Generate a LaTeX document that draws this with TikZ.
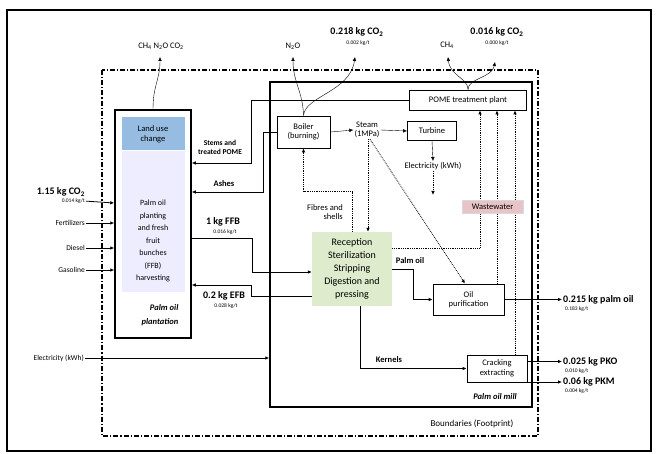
\documentclass[tikz,border=0pt]{standalone}
\usepackage{fontspec}
\setmainfont{Carlito}
\usetikzlibrary{positioning, arrows.meta}

\begin{document}
\begin{tikzpicture}[x=1pt, y=-1pt, >={Latex[length=4pt,width=3.6pt]},
    every node/.style={font=\fontsize{8.5}{9.5}\selectfont, inner sep=1pt},
    box/.style={draw, thick, fill=white, align=center},
    big/.style={font=\bfseries\fontsize{10}{11}\selectfont},
    tiny/.style={font=\fontsize{5.5}{6}\selectfont},
    lab/.style={font=\bfseries\fontsize{8.5}{9.5}\selectfont, align=center},
    inp/.style={anchor=east, font=\fontsize{7.5}{8.5}\selectfont},
    flow/.style={->, thick},
    aux/.style={->, densely dotted, thick}]
    \useasboundingbox (0,0) rectangle (658,454);
    \draw[line width=1.6pt] (7,10) rectangle (651,451);
    % system boundary
    \draw[line width=1.1pt, dash pattern=on 5pt off 2pt on 1.2pt off 2pt]
      (102,70) rectangle (538,436);
    \node[font=\fontsize{9}{10}\selectfont] at (472,424) {Boundaries (Footprint)};

    % plantation
    \fill[blue!7] (122,151) rectangle (185,292);
    \node[draw, line width=1.5pt, minimum width=76pt, minimum height=228pt] (plant) at (153,224) {};
    \node[fill={rgb,255:red,150;green,188;blue,225}, minimum width=63pt, minimum height=33pt,
      align=center, font=\fontsize{8.5}{10}\selectfont] (luc) at (153,134) {Land use\\change};
    \node[align=center, font=\fontsize{8}{12.5}\selectfont] (harv) at (153,241)
      {Palm oil\\planting\\and fresh\\fruit\\bunches\\(FFB)\\harvesting};
    \node[align=right, font=\bfseries\itshape\fontsize{8.5}{14}\selectfont] at (160,315) {Palm oil\\plantation};

    % mill
    \node[draw, line width=1.5pt, minimum width=262pt, minimum height=325pt] (mill) at (401,244.5) {};
    \node[font=\bfseries\itshape\fontsize{8.5}{9.5}\selectfont] at (495,397) {Palm oil mill};
    \node[box, minimum width=53pt, minimum height=32pt] (boiler) at (303.5,132) {Boiler\\(burning)};
    \node[align=center] (steam) at (367,130) {Steam\\(1MPa)};
    \node[box, minimum width=49pt, minimum height=19pt] (turb) at (432,131) {Turbine};
    \node[box, minimum width=117pt, minimum height=20pt] (pome) at (468,100) {POME treatment plant};
    \node (elec) at (433,166) {Electricity (kWh)};
    \coordinate (eout) at (433,195);
    \node[fill={rgb,255:red,222;green,236;blue,205}, minimum width=80pt, minimum height=74pt,
      align=center, font=\fontsize{10}{13}\selectfont] (recep) at (352,269)
      {Reception\\Sterilization\\Stripping\\Digestion and\\pressing};
    \node[box, minimum width=71pt, minimum height=31pt] (purif) at (468.5,299.5) {Oil\\purification};
    \node[box, minimum width=60pt, minimum height=27pt] (crack) at (497,368.5) {Cracking\\extracting};

    % steam and electricity
    \draw[->] (boiler.east) -- (steam.west);
    \draw[->] (steam.east) -- (turb.west);
    \draw[->] (turb.south) -- (elec.north);
    \draw[aux] (elec.south) -- (eout);
    \draw[aux] ([xshift=1pt]steam.south) -- ([xshift=16pt]recep.north);
    \draw[aux] ([xshift=3pt]steam.south) -- ([xshift=-3.5pt]purif.north);
    \draw[aux] (recep.north) -- ++(0,-40) -| (boiler.south);
    \node[align=right] at (325,212) {Fibres and\\shells};

    % wastewater to POME
    \draw[aux] ([yshift=21pt]recep.east) -| ([xshift=12pt]pome.south);
    \draw[aux] ([xshift=28.5pt]purif.north) -- ([xshift=28.5pt]purif.north |- pome.south);
    \draw[aux] ([xshift=18pt]crack.north) -- ([xshift=18pt]crack.north |- pome.south);
    \node[fill={rgb,255:red,232;green,196;blue,200}, draw=gray!30, minimum width=61pt,
      minimum height=13pt] (waste) at (492.5,206.5) {Wastewater};

    % emissions
    \coordinate (em1) at (160,57);
    \coordinate (n2o) at (293,57);
    \coordinate (co2b) at (355,57);
    \coordinate (ch4) at (448,57);
    \coordinate (co2c) at (495,62);
    \draw[->] (plant.north) .. controls (153,85) and (160,80) .. (em1);
    \draw[->] (boiler.north) .. controls (303,92) and (293,82) .. (n2o);
    \draw[->] (boiler.north) .. controls (305,96) and (350,92) .. (co2b);
    \draw[->] (pome.north) .. controls (468,78) and (450,76) .. (ch4);
    \draw[->] (pome.north) .. controls (468,78) and (492,78) .. (co2c);
    \node at (161,46) {CH\textsubscript{4} N\textsubscript{2}O CO\textsubscript{2}};
    \node at (293,46) {N\textsubscript{2}O};
    \node[big] at (357,32) {0.218 kg CO\textsubscript{2}};
    \node[tiny] at (358,43) {0.002 kg/t};
    \node at (447,45) {CH\textsubscript{4}};
    \node[big] at (497,32) {0.016 kg CO\textsubscript{2}};
    \node[tiny] at (497,43) {0.000 kg/t};

    % plantation <-> mill
    \draw[flow] (pome.west) -| ++(-158,63) -- ([yshift=61pt]plant.east);
    \node[lab, font=\bfseries\fontsize{7.5}{9}\selectfont] at (220,147) {Stems and\\treated POME};
    \draw[flow] (boiler.west) -| ++(-13,60) -- ([yshift=32pt]plant.east);
    \node[lab] at (224,184) {Ashes};
    \draw[flow] ([yshift=-14pt]plant.east) -- ++(61,0) |- ([yshift=-3pt]recep.west);
    \node[big] at (223,222) {1 kg FFB};
    \node[tiny] at (225,232) {0.016 kg/t};
    \draw[flow] ([yshift=-27pt]recep.west) -- ++(-60,0) |- ([yshift=-61pt]plant.east);
    \node[big] at (224,296) {0.2 kg EFB};
    \node[tiny] at (226,306) {0.028 kg/t};
    \draw[flow] (recep.east) -- ++(21,0) |- (purif.west);
    \node[lab] at (410,261) {Palm oil};
    \draw[flow] ([xshift=8pt]recep.south) |- (crack.west);
    \node[lab] at (389,360) {Kernels};

    % inputs
    \node[big, anchor=east] (in1) at (86,192) {1.15 kg CO\textsubscript{2}};
    \node[tiny, anchor=north east] (in1s) at (in1.south east) {0.014 kg/t};
    \node[inp] (in2) at (86,223) {Fertilizers};
    \node[inp] (in3) at (86,248) {Diesel};
    \node[inp] (in4) at (86,270) {Gasoline};
    \draw[flow] (in1s.east) -- ([yshift=21pt]plant.west);
    \draw[flow] (in2.east) -- ([yshift=1pt]plant.west);
    \draw[flow] (in3.east) -- ([yshift=-24pt]plant.west);
    \draw[flow] (in4.east) -- ([yshift=-46pt]plant.west);
    \node[inp] (ein) at (85,358) {Electricity (kWh)};
    \draw[flow] (ein.east) -- ([yshift=-113.5pt]mill.west);

    % outputs
    \node[big, anchor=west] (opo) at (562,299.5) {0.215 kg palm oil};
    \node[tiny, anchor=north west] at ([xshift=2pt]opo.south west) {0.183 kg/t};
    \node[big, anchor=west] (pko) at (562,361.5) {0.025 kg PKO};
    \node[tiny, anchor=north west] at ([xshift=2pt]pko.south west) {0.010 kg/t};
    \node[big, anchor=west] (pkm) at (562,382) {0.06 kg PKM};
    \node[tiny, anchor=north west] at ([xshift=2pt]pkm.south west) {0.004 kg/t};
    \draw[flow] (purif.east) -- (opo.west);
    \draw[flow] ([yshift=7pt]crack.east) -- (pko.west);
    \draw[flow] ([yshift=-13.5pt]crack.east) -- (pkm.west);
\end{tikzpicture}
\end{document}
